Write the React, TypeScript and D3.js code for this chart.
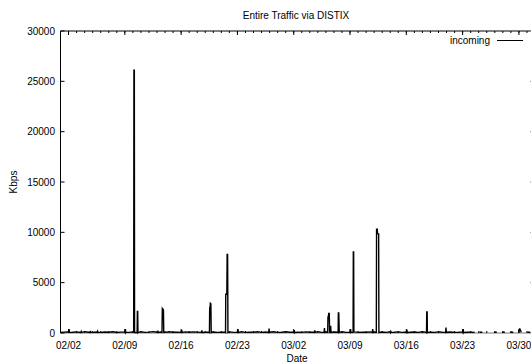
import React from "react";
import * as d3 from "d3";

// Days counted from 02/01 00:00
const xTickDays = [1, 8, 15, 22, 29, 36, 43, 50, 57];
const xTickLabels = ["02/02", "02/09", "02/16", "02/23", "03/02", "03/09", "03/16", "03/23", "03/30"];
const yTicks = [0, 5000, 10000, 15000, 20000, 25000, 30000];

// baseline readings every half day, from day 0
const baseline = [
  60, 90, 120, 70, 110, 50, 130, 80, 60, 100,
  60, 100, 70, 120, 50, 90, 110, 60, 110, 80,
  130, 60, 90, 140, 70, 100, 60, 120, 80, 90,
  60, 110, 70, 110, 90, 60, 80, 70, 100, 60,
  90, 70, 110, 60, 80, 120, 60, 90, 70, 130,
  60, 100, 80, 120, 60, 70, 120, 70, 100, 80,
  60, 110, 70, 90, 130, 60, 100, 60, 100, 70,
  120, 60, 80, 110, 60, 90, 80, 110, 80, 9850,
  100, 60, 120, 70, 110, 60, 90, 80, 100, 60,
  120, 70, 90, 60, 110, 70, 80, 100, 60, 80,
  110, 80, 90, 60,
];

// spikes and blips (day, Kbps)
const spikeDays = [
  1.03, 1.07, 1.11,
  2.53, 2.57, 2.61,
  3.68, 3.72, 3.76,
  4.58, 4.62, 4.66,
  8.03, 8.07, 8.11,
  9.10, 9.13, 9.18, 9.21,
  9.53, 9.56, 9.60, 9.63,
  12.08, 12.12, 12.16,
  12.62, 12.66, 12.72, 12.80, 12.84,
  15.03, 15.07, 15.11,
  17.53, 17.57, 17.61,
  18.52, 18.55, 18.60, 18.63, 18.70, 18.74,
  20.52, 20.55, 20.68, 20.72, 20.78, 20.82,
  22.03, 22.07, 22.11,
  25.89, 25.93, 25.97,
  29.03, 29.07, 29.11,
  31.58, 31.62, 31.66,
  32.78, 32.82, 32.86,
  33.22, 33.26, 33.31, 33.35, 33.42, 33.46,
  33.53, 33.55, 33.60, 33.63,
  34.52, 34.55, 34.60, 34.66,
  36.03, 36.07, 36.11,
  36.38, 36.41, 36.45, 36.48,
  38.78, 38.82, 38.86,
  39.27, 39.30, 39.39, 39.42, 39.46, 39.56, 39.59,
  41.03, 41.07, 41.11,
  43.03, 43.07, 43.11,
  45.51, 45.54, 45.59, 45.62,
  47.89, 47.93, 47.97,
  50.03, 50.07, 50.11,
];
const spikeValues = [
  60, 380, 60,
  60, 150, 60,
  60, 200, 60,
  60, 160, 60,
  60, 400, 60,
  80, 26100, 26100, 60,
  50, 2150, 2150, 40,
  60, 150, 60,
  70, 2450, 2400, 2300, 60,
  60, 320, 60,
  60, 250, 60,
  60, 2500, 2500, 2950, 2900, 50,
  60, 3850, 3850, 7800, 7800, 60,
  60, 400, 60,
  60, 450, 60,
  60, 300, 60,
  60, 250, 60,
  60, 480, 60,
  60, 1600, 1600, 1950, 1950, 60,
  60, 650, 650, 60,
  60, 2000, 2000, 60,
  60, 400, 60,
  60, 8050, 8050, 60,
  60, 400, 60,
  80, 10300, 10300, 9850, 9850, 9850, 60,
  60, 150, 60,
  60, 330, 60,
  60, 2100, 2100, 60,
  60, 550, 60,
  60, 400, 60,
];

// sparse readings at the end of the period (NaN = gap)
const tailDays = [52.1, 52.45, NaN, 53.9, 54.25, NaN, 54.9, 55.25, NaN, 55.95, 56.3, NaN, 56.95, 57.08, 57.12, 57.3, NaN, 58.05, 58.4];
const tailValues = [80, 80, NaN, 80, 80, NaN, 80, 80, NaN, 80, 80, NaN, 80, 400, 400, 80, NaN, 80, 80];

const W = 531;
const H = 363;
const left = 60.5;
const right = 535;
const top = 31;
const bottom = 333;

export default function App() {
  const x = d3.scaleLinear().domain([0, 59]).range([left, right]);
  const y = d3.scaleLinear().domain([0, 30000]).range([bottom, top]);

  const pts: [number, number][] = baseline.map((v, i) => [i * 0.5, v] as [number, number]);
  spikeDays.forEach((d, i) => pts.push([d, spikeValues[i]]));
  pts.sort((a, b) => a[0] - b[0]);

  const line = d3
    .line<[number, number]>()
    .x((d) => x(d[0]))
    .y((d) => y(d[1]));

  const tailPts: [number, number][] = tailDays.map((d, i) => [d, tailValues[i]] as [number, number]);
  const tailLine = d3
    .line<[number, number]>()
    .defined((d) => !isNaN(d[0]))
    .x((d) => x(d[0]))
    .y((d) => y(d[1]));

  const minorDays = d3.range(0, 60);
  const font = "'Liberation Sans', Arial, Helvetica, sans-serif";

  return (
    <svg
      width={W}
      height={H}
      style={{ position: "absolute", left: 0, top: 0, background: "#fff" }}
      fontFamily={font}
    >
      <rect x={0} y={0} width={W} height={H} fill="#fff" />
      <text x={296} y={19} fontSize={10} textAnchor="middle" fill="#000">
        Entire Traffic via DISTIX
      </text>

      {/* border */}
      <line x1={left} y1={top} x2={right} y2={top} stroke="#000" strokeWidth={1} />
      <line x1={left} y1={top} x2={left} y2={bottom} stroke="#000" strokeWidth={1} />
      <line x1={right} y1={top} x2={right} y2={bottom} stroke="#000" strokeWidth={1} />
      <line x1={left} y1={bottom} x2={right} y2={bottom} stroke="#777" strokeWidth={1} />

      {/* minor x ticks */}
      {minorDays.map((d) => (
        <g key={"m" + d}>
          <line x1={x(d)} x2={x(d)} y1={top} y2={top + 2} stroke="#000" strokeWidth={1} />
          <line x1={x(d)} x2={x(d)} y1={bottom} y2={bottom - 2} stroke="#000" strokeWidth={1} />
        </g>
      ))}
      {xTickDays.map((d, i) => (
        <g key={"x" + d}>
          <line x1={x(d)} x2={x(d)} y1={top} y2={top + 4} stroke="#000" strokeWidth={1} />
          <line x1={x(d)} x2={x(d)} y1={bottom} y2={bottom - 4} stroke="#000" strokeWidth={1} />
          <text x={x(d)} y={349} fontSize={10} textAnchor="middle" fill="#000">
            {xTickLabels[i]}
          </text>
        </g>
      ))}
      {yTicks.map((v) => (
        <g key={"y" + v}>
          <line x1={left} x2={left + 4} y1={y(v)} y2={y(v)} stroke="#000" strokeWidth={1} />
          <line x1={right} x2={right - 5} y1={y(v)} y2={y(v)} stroke="#999" strokeWidth={1} />
          <text x={55} y={y(v) + 3.5} fontSize={10} textAnchor="end" fill="#000">
            {v}
          </text>
        </g>
      ))}

      <text
        transform={`translate(17,182) rotate(-90)`}
        fontSize={10}
        textAnchor="middle"
        fill="#000"
      >
        Kbps
      </text>
      <text x={297} y={362} fontSize={10} textAnchor="middle" fill="#000">
        Date
      </text>

      {/* legend */}
      <text x={490} y={44} fontSize={10} textAnchor="end" fill="#000">
        incoming
      </text>
      <line x1={497} x2={523} y1={40.5} y2={40.5} stroke="#000" strokeWidth={1} />

      {/* data */}
      <path d={line(pts) || ""} fill="none" stroke="#000" strokeWidth={1.4} strokeLinejoin="miter" />
      <path d={tailLine(tailPts) || ""} fill="none" stroke="#000" strokeWidth={1.4} />
    </svg>
  );
}
